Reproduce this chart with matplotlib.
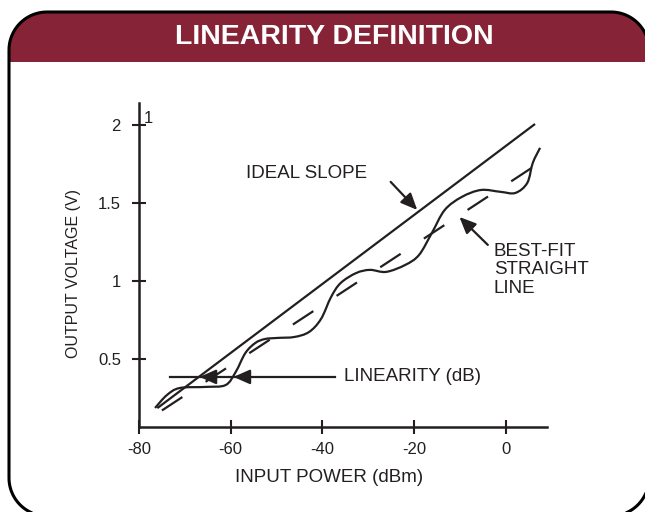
import numpy as np
import matplotlib.pyplot as plt
from matplotlib.patches import Rectangle, PathPatch
from matplotlib.path import Path

plt.rcParams['font.family'] = ['Liberation Sans', 'DejaVu Sans']
plt.rcParams['axes.unicode_minus'] = False

INK = '#231f20'
MAROON = '#862336'

# input power (dBm) / output voltage (V) read along the measured response
meas_dbm = [-76.5, -73.9, -71.1, -65.4, -61.1, -58.9, -56.8, -54.6, -52.5, -49.7,
            -46.1, -42.9, -40.3, -38.1, -36.0, -32.6, -29.6, -26.1, -21.9, -18.9,
            -16.1, -13.3, -9.6, -5.4, -1.1, 2.1, 4.7, 5.9, 7.5]
meas_v = [0.186, 0.269, 0.314, 0.321, 0.333, 0.417, 0.538, 0.603, 0.628, 0.635,
          0.641, 0.673, 0.756, 0.897, 0.987, 1.051, 1.071, 1.058, 1.103, 1.167,
          1.308, 1.455, 1.538, 1.583, 1.571, 1.564, 1.628, 1.756, 1.853]

ideal_dbm = [-76.0, 6.4]
ideal_v = [0.185, 2.006]

fit_dbm = [-75.0, 7.5]
fit_v = [0.17, 1.76]

lin_v = 0.385
lin_span = [-73.3, -37.3]
lin_tips = [-66.8, -59.4]

x_ticks = [-80, -60, -40, -20, 0]
y_ticks = [0.5, 1, 1.5, 2]
y_tick_labels = ['0.5', '1', '1.5', '2']


def smooth_path(xs, ys):
    # Catmull-Rom through the points, written out as cubic Bezier segments
    pts = np.column_stack([xs, ys])
    ext = np.vstack([pts[0], pts, pts[-1]])
    verts = [pts[0]]
    codes = [Path.MOVETO]
    for i in range(1, len(ext) - 2):
        p0, p1, p2, p3 = ext[i - 1], ext[i], ext[i + 1], ext[i + 2]
        verts += [p1 + (p2 - p0) / 6, p2 - (p3 - p1) / 6, p2]
        codes += [Path.CURVE4] * 3
    return Path(verts, codes)


def rounded_rect(x0, y0, x1, y1, r, n=24):
    # closed outline in pixel space (y grows downwards)
    t = np.linspace(0, np.pi / 2, n)
    corners = [
        (x0 + r, y0 + r, np.pi + t),            # top-left
        (x1 - r, y0 + r, 1.5 * np.pi + t),      # top-right
        (x1 - r, y1 - r, t),                    # bottom-right
        (x0 + r, y1 - r, 0.5 * np.pi + t),      # bottom-left
    ]
    pts = []
    for cx, cy, ang in corners:
        pts += list(zip(cx + r * np.cos(ang), cy + r * np.sin(ang)))
    pts.append(pts[0])
    codes = [Path.MOVETO] + [Path.LINETO] * (len(pts) - 2) + [Path.CLOSEPOLY]
    return Path(pts, codes)


fig = plt.figure(figsize=(6.45, 5.12), dpi=100)

# panel frame with maroon header
bg = fig.add_axes([0, 0, 1, 1], zorder=0)
bg.set_xlim(0, 645)
bg.set_ylim(512, 0)
bg.axis('off')
outline = rounded_rect(9, 12, 649, 516, 38)
frame = PathPatch(outline, facecolor='white', edgecolor='none')
bg.add_patch(frame)
header = Rectangle((0, 0), 645, 62, facecolor=MAROON, edgecolor='none')
bg.add_patch(header)
header.set_clip_path(frame)
bg.add_patch(PathPatch(outline, facecolor='none', edgecolor='black', lw=2.2))
bg.text(334, 37, 'LINEARITY DEFINITION', color='white', fontsize=20.5,
        fontweight='bold', ha='center', va='center')

ax = fig.add_axes([0.2155, 0.166, 0.6325, 0.633], zorder=1)
ax.patch.set_visible(False)
ax.set_xlim(-78.4, 9.0)
ax.set_ylim(0.064, 2.141)
for side in ('top', 'right'):
    ax.spines[side].set_visible(False)
for side in ('left', 'bottom'):
    ax.spines[side].set_linewidth(1.8)
    ax.spines[side].set_color(INK)
ax.set_xticks(x_ticks)
ax.set_yticks(y_ticks)
ax.set_yticklabels(y_tick_labels)
ax.tick_params(direction='inout', length=10, width=1.5, color=INK, labelcolor=INK,
               labelsize=12)
ax.tick_params(axis='x', pad=6)
ax.tick_params(axis='y', pad=8)
ax.set_xlabel('INPUT POWER (dBm)', fontsize=13.5, color=INK)
ax.set_ylabel('OUTPUT VOLTAGE (V)', fontsize=11.5, color=INK)
ax.xaxis.set_label_coords(0.466, -0.131)
ax.yaxis.set_label_coords(-0.142, 0.475)
ax.text(-78.9, 1.99, '1', fontsize=12, color=INK, ha='left', va='bottom')

ax.plot(ideal_dbm, ideal_v, color=INK, lw=1.6, solid_capstyle='butt')
ax.plot(fit_dbm, fit_v, color=INK, lw=1.6, dashes=(11, 12.5))
ax.add_patch(PathPatch(smooth_path(meas_dbm, meas_v), facecolor='none',
                       edgecolor=INK, lw=1.6))

head = dict(arrowstyle='-|>,head_length=0.5,head_width=0.22', color=INK, lw=1.6,
            mutation_scale=20, shrinkA=0, shrinkB=0)

ax.plot(lin_span, [lin_v, lin_v], color=INK, lw=1.6)
for tip in lin_tips:
    ax.annotate('', xy=(tip, lin_v), xytext=(tip + 2.5, lin_v), arrowprops=head)
ax.text(-35.3, lin_v, 'LINEARITY (dB)', fontsize=13.5, color=INK, va='center')

ax.annotate('', xy=(-19.3, 1.455), xytext=(-25.1, 1.635), arrowprops=head)
ax.text(-56.7, 1.686, 'IDEAL SLOPE', fontsize=13.5, color=INK, va='center')

ax.annotate('', xy=(-10.1, 1.41), xytext=(-3.9, 1.231), arrowprops=head)
ax.text(-2.6, 1.245, 'BEST-FIT\nSTRAIGHT\nLINE', fontsize=13.5, color=INK, va='top',
        linespacing=1.12)

fig.savefig('out.png', dpi=100)
